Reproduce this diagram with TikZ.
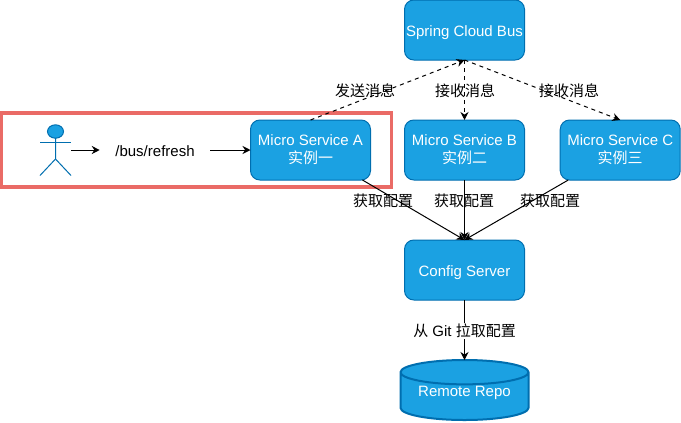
\documentclass[tikz,border=0pt]{standalone}
\usepackage{fontspec}
\setmainfont{Liberation Sans}
\newfontfamily\cjk{Noto Sans CJK SC}
\usetikzlibrary{shapes.geometric, positioning, arrows.meta}
\definecolor{boxblue}{HTML}{1BA1E2}
\definecolor{boxline}{HTML}{006EAF}
\definecolor{framered}{HTML}{EA6B66}
\tikzset{
    service/.style={rectangle, minimum width=90pt, minimum height=45pt, inner xsep=0pt, text centered, align=center, draw=boxline, fill=boxblue, text=white, rounded corners=7pt, line width=0.75pt, outer sep=0pt, font=\fontsize{11.25pt}{13.5pt}\selectfont},
    repo/.style={cylinder, shape border rotate=90, aspect=0.24, draw=boxline, fill=boxblue, text=white, minimum height=45pt, minimum width=96pt, line width=1.5pt, outer sep=0pt, font=\fontsize{11.25pt}{13pt}\selectfont},
    arrow/.style={line width=0.75pt,-{Stealth[length=6pt,width=6pt]}},
    dasharrow/.style={arrow, dashed},
    edgelabel/.style={font=\fontsize{11.25pt}{13pt}\selectfont, inner sep=0pt},
    actorline/.style={draw=boxline, line width=0.75pt}
}

\begin{document}
\begin{tikzpicture}[x=0.75pt, y=-0.75pt]
        \useasboundingbox (0,0) rectangle (681,422);
        \node (frame) [draw=framered, line width=2.4pt, minimum width=293pt, minimum height=55.5pt, outer sep=0pt] at (196.5,150) {};

        \node (bus) [service, text depth=0pt, text height=9.5pt] at (464.5,30) {Spring Cloud Bus};
        \node (serviceB) [service, below=45pt of bus] {Micro Service B\\{\cjk 实例二}};
        \node (serviceA) [service, left=25.5pt of serviceB] {Micro Service A\\{\cjk 实例一}};
        \node (serviceC) [service, right=26.8pt of serviceB] {Micro Service C\\{\cjk 实例三}};
        \node (config) [service, text depth=0pt, text height=10pt, below=45pt of serviceB] {Config Server};
        \node (remote) [repo, below=45pt of config] {\raisebox{5pt}[8pt][2pt]{Remote Repo}};

        \node (user) [minimum width=23.25pt, minimum height=37.5pt, inner sep=0pt, outer sep=0pt] at (55.5,150) {};
        \node (refresh) [edgelabel, minimum width=82.5pt] at (155,151) {/bus/refresh};

        % stick figure
        \draw [actorline, fill=boxblue] (55.5,131.5) ellipse (8 and 6.7);
        \draw [actorline] (40,142) -- (71,142);
        \draw [actorline] (55.5,138) -- (55.5,159) -- (40,175.5);
        \draw [actorline] (55.5,159) -- (71,175.5);

        \draw [arrow] (user) -- (user -| refresh.west);
        \draw [arrow] (refresh.east |- serviceA) -- (serviceA);

        \draw [dasharrow] (serviceA.north) -- (bus.south);
        \draw [dasharrow] (bus.south) -- (serviceB.north);
        \draw [dasharrow] (bus.south) -- (serviceC.north);
        \draw [arrow] (serviceA.-30) -- (config.north);
        \draw [arrow] (serviceB) -- (config);
        \draw [arrow] (serviceC.-150) -- (config.north);
        \draw [arrow] (config) -- (remote.north);

        \node (sendLabel) [edgelabel] at (365,90.5) {\cjk 发送消息};
        \node (recvB) [edgelabel] at (465,90.5) {\cjk 接收消息};
        \node (recvC) [edgelabel] at (569,90.5) {\cjk 接收消息};
        \node (getA) [edgelabel] at (383,200.5) {\cjk 获取配置};
        \node (getB) [edgelabel] at (464,200.5) {\cjk 获取配置};
        \node (getC) [edgelabel] at (550,200.5) {\cjk 获取配置};
        \node (pullLabel) [edgelabel, fill=white, inner sep=1pt] at (464.5,331) {{\cjk 从} Git {\cjk 拉取配置}};
    \end{tikzpicture}
\end{document}
